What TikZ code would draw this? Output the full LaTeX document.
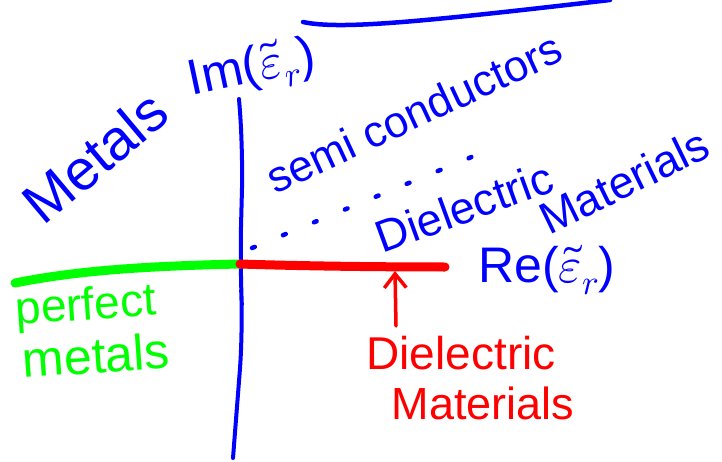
\documentclass[tikz,border=0pt]{standalone}
\usepackage{fontspec}
\usepackage{unicode-math}
\setmainfont{Liberation Sans}
\setmathfont{Latin Modern Math}
\usetikzlibrary{arrows.meta}
\begin{document}
\begin{tikzpicture}[x=1pt,y=-1pt,
  hand/.style={inner sep=0pt, font=\fontsize{#1}{#1}\selectfont},
  hand/.default=46,
  axis/.style={line width=4pt, line cap=round, line join=round},
  bar/.style={line width=9pt, line cap=round},
  dotline/.style={blue, line width=4.5pt, line cap=round, dash pattern=on 3pt off 30.5pt}]
\useasboundingbox (0,0) rectangle (722,462);

% axes
\coordinate (o) at (240,264);
\coordinate (ytop) at (239,99);
\coordinate (ybot) at (233,458);
\coordinate (xl) at (15,283);
\coordinate (xr) at (445,267);
\draw[blue, axis, rounded corners=40pt] (ytop) -- (243,150) -- (240,265) -- (243,330) -- (ybot);
\draw[green, bar] (xl) .. controls (80,270) and (150,266) .. (o);
\draw[red, bar] (o) .. controls (300,266) and (380,267) .. (xr);

% top line
\coordinate (t0) at (303,22);
\coordinate (t1) at (610,0);
\draw[blue, line width=4.5pt, line cap=round] (t0) .. controls (340,30) and (420,22) .. (t1);

% labels
\node[blue, hand=57, rotate=40] (metals) at (95,157) {Metals};
\node[blue, hand=50, rotate=12] (im) at (252,70) {Im($\tilde{\varepsilon}_r$)};
\node[blue, hand=44, rotate=25] (semi) at (414,113) {semi conductors};
\node[blue, hand=45, rotate=20] (diel) at (464,207) {Dielectric};
\node[blue, hand=45, rotate=26] (mat) at (624,181) {Materials};
\node[blue, hand=50] (re) at (547,270) {Re($\tilde{\varepsilon}_r$)};
\node[green, hand=46, rotate=4] (perf) at (86,308) {perfect};
\node[green, hand=50, rotate=4] (metl) at (96,355) {metals};
\node[red, hand=46] (dm1) at (461,353) {Dielectric};
\node[red, hand=45] (dm2) at (483,403) {Materials};

% dotted line
\coordinate (d0) at (252,248);
\coordinate (d1) at (486,151);
\draw[dotline] (d0) -- (d1);

% red arrow
\coordinate (abot) at (396,326);
\coordinate (atop) at (395,271);
\draw[red, line width=3.5pt, line cap=round, -{Straight Barb[length=14pt,width=22pt,line width=3.5pt]}] (abot) -- (atop);
\end{tikzpicture}
\end{document}
